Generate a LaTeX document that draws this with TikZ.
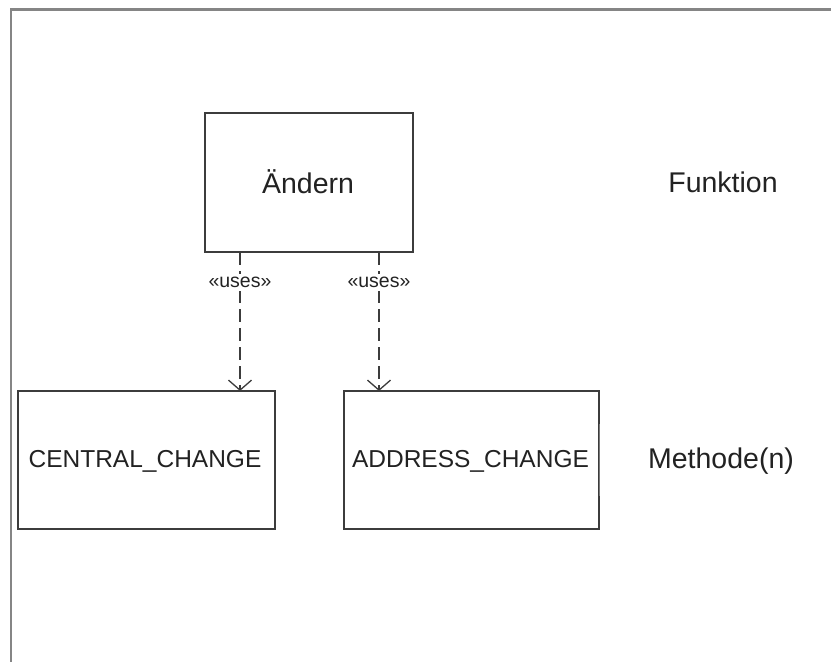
\documentclass[tikz,border=0pt]{standalone}
\usepackage{fontspec}
\setmainfont{Liberation Sans}
\usetikzlibrary{arrows.meta}
\definecolor{framegray}{HTML}{858585}
\definecolor{edgegray}{HTML}{3C3C3C}
\definecolor{txt}{HTML}{222222}
\tikzset{
  x=1pt, y=-1pt,
  box/.style={draw=edgegray, line width=1.5pt, fill=white, inner sep=0pt},
  bigtext/.style={text=txt, font=\fontsize{28.5}{31}\selectfont, inner sep=0pt, anchor=base},
  midtext/.style={text=txt, font=\fontsize{24.5}{27}\selectfont, inner sep=0pt, anchor=base},
  usesline/.style={draw=edgegray, line width=1.3pt, dash pattern=on 13pt off 6pt,
    -{Straight Barb[length=10pt, width=23pt, line width=1.3pt]}},
  usestag/.style={text=txt, font=\fontsize{19.5}{21}\selectfont, fill=white, inner sep=3pt}
}
\begin{document}
\begin{tikzpicture}
\useasboundingbox (0,0) rectangle (831,662);
\clip (0,0) rectangle (831,662);
\fill[white] (0,0) rectangle (831,662);

% outer frame (only top and left sides lie inside the page)
\draw[framegray, line width=2.8pt] (840,9.5) -- (11,9.5) -- (11,670);

% boxes
\node[box, minimum width=208pt, minimum height=139pt] (aendern) at (309,182.5) {};
\node[box, minimum width=257pt, minimum height=138pt] (central) at (146.5,460) {};
\node[box, minimum width=255pt, minimum height=138pt] (address) at (471.5,460) {};

% lighter middle stretch on the right edge of the ADDRESS_CHANGE box
\draw[white, line width=1.7pt] ([yshift=-34pt]address.north east) -- ([yshift=34pt]address.south east);
\draw[edgegray!70, line width=0.9pt] ([yshift=-34pt]address.north east) -- ([yshift=34pt]address.south east);

% texts
\node[bigtext] (t1) at (308,193) {Ändern};
\node[midtext] (t2) at (145,467.5) {CENTRAL\_CHANGE};
\node[midtext] (t3) at (470.5,467.5) {ADDRESS\_CHANGE};
\node[bigtext] (t4) at (723,192.5) {Funktion};
\node[bigtext] (t5) at (721,468.5) {Methode(n)};

% dependency connectors
\coordinate (s1) at (240,252);
\coordinate (e1) at (240,391);
\coordinate (s2) at (379,252);
\coordinate (e2) at (379,391);
\draw[usesline] (s1) -- node[usestag, pos=0.22] {«uses»} (e1);
\draw[usesline] (s2) -- node[usestag, pos=0.22] {«uses»} (e2);
\end{tikzpicture}
\end{document}
